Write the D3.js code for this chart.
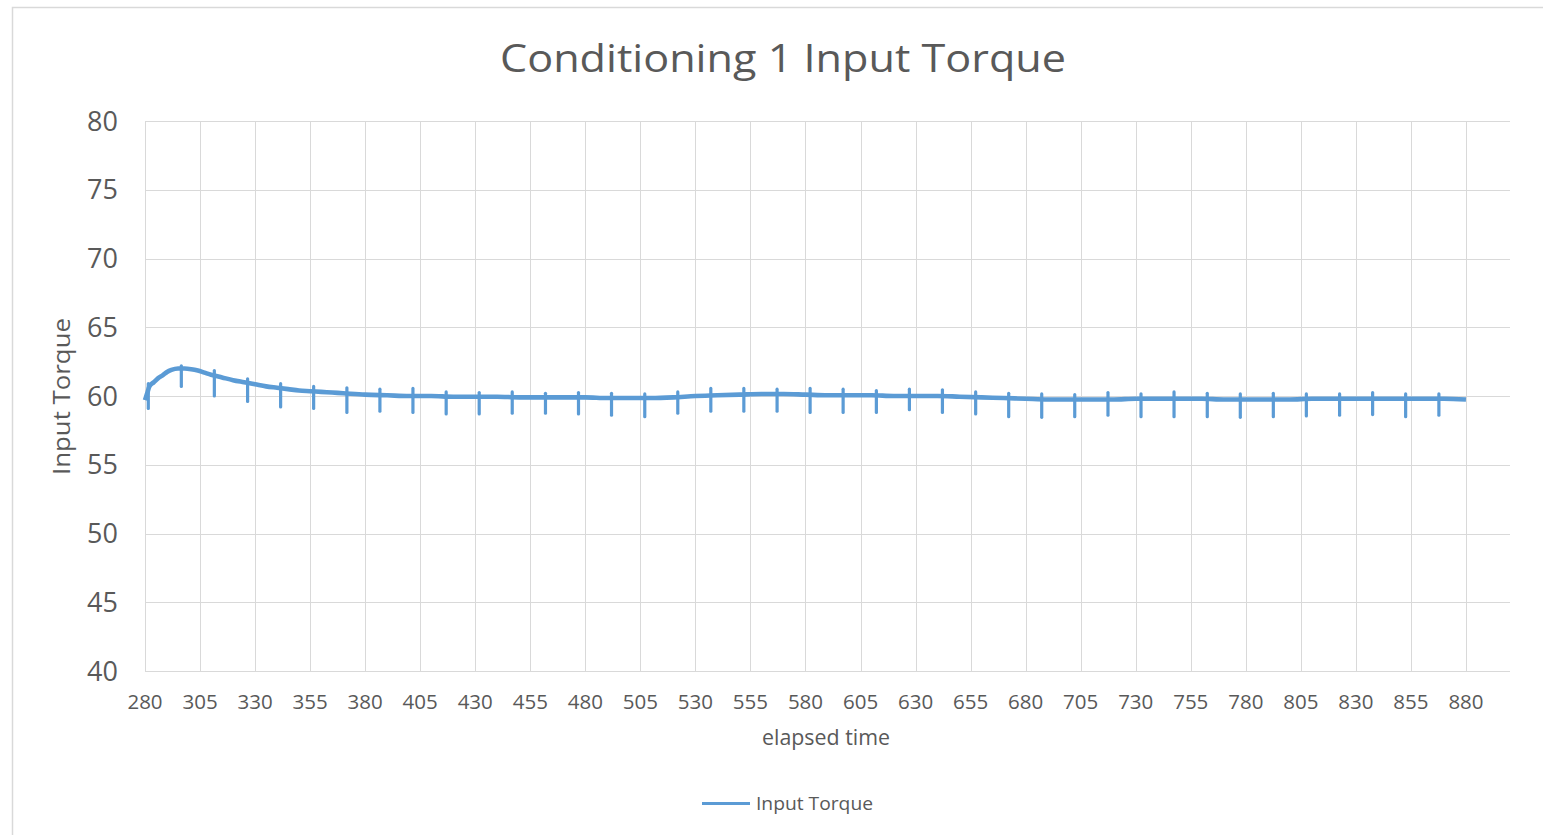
<!DOCTYPE html>
<html>
<head>
<meta charset="utf-8">
<script src="https://cdn.jsdelivr.net/npm/d3@7"></script>
<style>
  html, body { margin: 0; padding: 0; background: #fff; }
  svg { display: block; }
  text { font-family: "Open Sans", "Liberation Sans", sans-serif; fill: #595959; }
</style>
</head>
<body>
<svg id="chart" width="1543" height="835"></svg>
<script>
// ---- Data ----
const title = "Conditioning 1 Input Torque";
const xTitle = "elapsed time";
const yTitle = "Input Torque";
const seriesName = "Input Torque";

const xTicks = [280,305,330,355,380,405,430,455,480,505,530,555,580,605,630,655,680,705,730,755,780,805,830,855,880];
const yTicks = [40,45,50,55,60,65,70,75,80];

// underlying torque trace
const times = [280,281,282,284,286,288,290,292,295,298,301,304,307,310,315,320,325,330,335,340,345,350,355,360,365,370,380,390,400,410,420,430,440,450,460,470,480,490,500,510,520,530,540,550,560,570,580,590,600,610,620,630,640,650,660,670,680,690,700,710,720,730,740,750,760,770,780,790,800,810,820,830,840,850,860,870,880];
const torque = [59.7,60.2,60.7,61.0,61.3,61.5,61.75,61.9,62.0,62.0,61.95,61.85,61.7,61.55,61.35,61.15,61.0,60.85,60.7,60.6,60.5,60.4,60.35,60.3,60.25,60.2,60.1,60.05,60.0,60.0,59.95,59.95,59.95,59.9,59.9,59.9,59.9,59.85,59.85,59.85,59.9,60.0,60.05,60.1,60.15,60.15,60.1,60.05,60.05,60.05,60.0,60.0,60.0,59.95,59.9,59.85,59.8,59.75,59.75,59.75,59.75,59.8,59.8,59.8,59.8,59.75,59.75,59.75,59.75,59.8,59.8,59.8,59.8,59.8,59.8,59.8,59.75];

// periodic short spikes: time, top of the blip, bottom of the dip
const spikeTimes = [281.5,296.5,311.5,326.6,341.6,356.6,371.7,386.7,401.7,416.8,431.8,446.8,461.9,476.9,491.9,507.0,522.0,537.0,552.0,567.1,582.1,597.1,612.2,627.2,642.2,657.3,672.3,687.3,702.3,717.4,732.4,747.4,762.5,777.5,792.5,807.5,822.6,837.6,852.6,867.7];
const spikeHigh = [60.9,62.2,61.85,61.25,60.9,60.7,60.6,60.5,60.55,60.3,60.25,60.3,60.2,60.25,60.2,60.15,60.3,60.55,60.55,60.5,60.55,60.5,60.4,60.5,60.45,60.3,60.2,60.15,60.1,60.25,60.15,60.3,60.2,60.15,60.2,60.15,60.15,60.25,60.15,60.15];
const spikeLow = [59.1,60.7,60.0,59.6,59.2,59.1,58.8,58.9,58.8,58.7,58.7,58.75,58.75,58.7,58.6,58.5,58.75,58.9,58.9,58.9,58.8,58.8,58.8,59.0,58.8,58.7,58.5,58.45,58.5,58.6,58.5,58.5,58.5,58.45,58.5,58.55,58.6,58.65,58.5,58.6];

// ---- Drawing ----
const svg = d3.select("#chart");
const lineColor = "#5b9bd5";
const gridColor = "#d9d9d9";

// chart area border
svg.append("rect")
  .attr("x", 12.5).attr("y", 7.5)
  .attr("width", 1540).attr("height", 840)
  .attr("fill", "#fff")
  .attr("stroke", "#d9d9d9").attr("stroke-width", 1.5);

const x = d3.scaleLinear().domain([280, 900]).range([145, 1510]);
const y = d3.scaleLinear().domain([40, 80]).range([671, 121]);

// horizontal gridlines
svg.append("g").selectAll("line").data(yTicks).join("line")
  .attr("x1", x.range()[0]).attr("x2", x.range()[1])
  .attr("y1", d => Math.round(y(d)) + 0.5).attr("y2", d => Math.round(y(d)) + 0.5)
  .attr("stroke", gridColor).attr("stroke-width", 1);

// vertical gridlines
svg.append("g").selectAll("line").data(xTicks).join("line")
  .attr("x1", d => Math.round(x(d)) + 0.5).attr("x2", d => Math.round(x(d)) + 0.5)
  .attr("y1", y(80)).attr("y2", y(40))
  .attr("stroke", gridColor).attr("stroke-width", 1);

// y tick labels
svg.append("g").selectAll("text").data(yTicks).join("text")
  .attr("x", 118).attr("y", d => y(d) + 9.5)
  .attr("text-anchor", "end")
  .attr("font-size", 27)
  .text(d => d);

// x tick labels
svg.append("g").selectAll("text").data(xTicks).join("text")
  .attr("x", d => x(d)).attr("y", 708.5)
  .attr("text-anchor", "middle")
  .attr("font-size", 20.5)
  .text(d => d);

// main trace
const line = d3.line().x(d => x(d[0])).y(d => y(d[1])).curve(d3.curveMonotoneX);
svg.append("path")
  .datum(times.map((t, i) => [t, torque[i]]))
  .attr("d", line)
  .attr("fill", "none")
  .attr("stroke", lineColor)
  .attr("stroke-width", 4.6)
  .attr("stroke-linejoin", "round");

// spikes
const spikeLine = d3.line().x(d => x(d[0])).y(d => y(d[1]));
svg.append("g").selectAll("path").data(spikeTimes.map((t, i) => [[t, spikeHigh[i]], [t, spikeLow[i]]])).join("path")
  .attr("d", spikeLine)
  .attr("fill", "none")
  .attr("stroke", lineColor)
  .attr("stroke-width", 3.2)
  .attr("stroke-linecap", "round");

// title
svg.append("text")
  .attr("x", 783).attr("y", 72)
  .attr("text-anchor", "middle")
  .attr("font-size", 39)
  .attr("textLength", 566).attr("lengthAdjust", "spacingAndGlyphs")
  .text(title);

// axis titles
svg.append("text")
  .attr("x", 826).attr("y", 745)
  .attr("text-anchor", "middle")
  .attr("font-size", 21)
  .attr("textLength", 128).attr("lengthAdjust", "spacingAndGlyphs")
  .text(xTitle);

svg.append("text")
  .attr("transform", "translate(70,396.5) rotate(-90)")
  .attr("text-anchor", "middle")
  .attr("font-size", 23)
  .attr("textLength", 157).attr("lengthAdjust", "spacingAndGlyphs")
  .text(yTitle);

// legend
svg.append("line")
  .attr("x1", 702).attr("x2", 750)
  .attr("y1", 803.5).attr("y2", 803.5)
  .attr("stroke", lineColor).attr("stroke-width", 3.2);
svg.append("text")
  .attr("x", 756).attr("y", 810)
  .attr("font-size", 19)
  .attr("textLength", 117).attr("lengthAdjust", "spacingAndGlyphs")
  .text(seriesName);
</script>
</body>
</html>
